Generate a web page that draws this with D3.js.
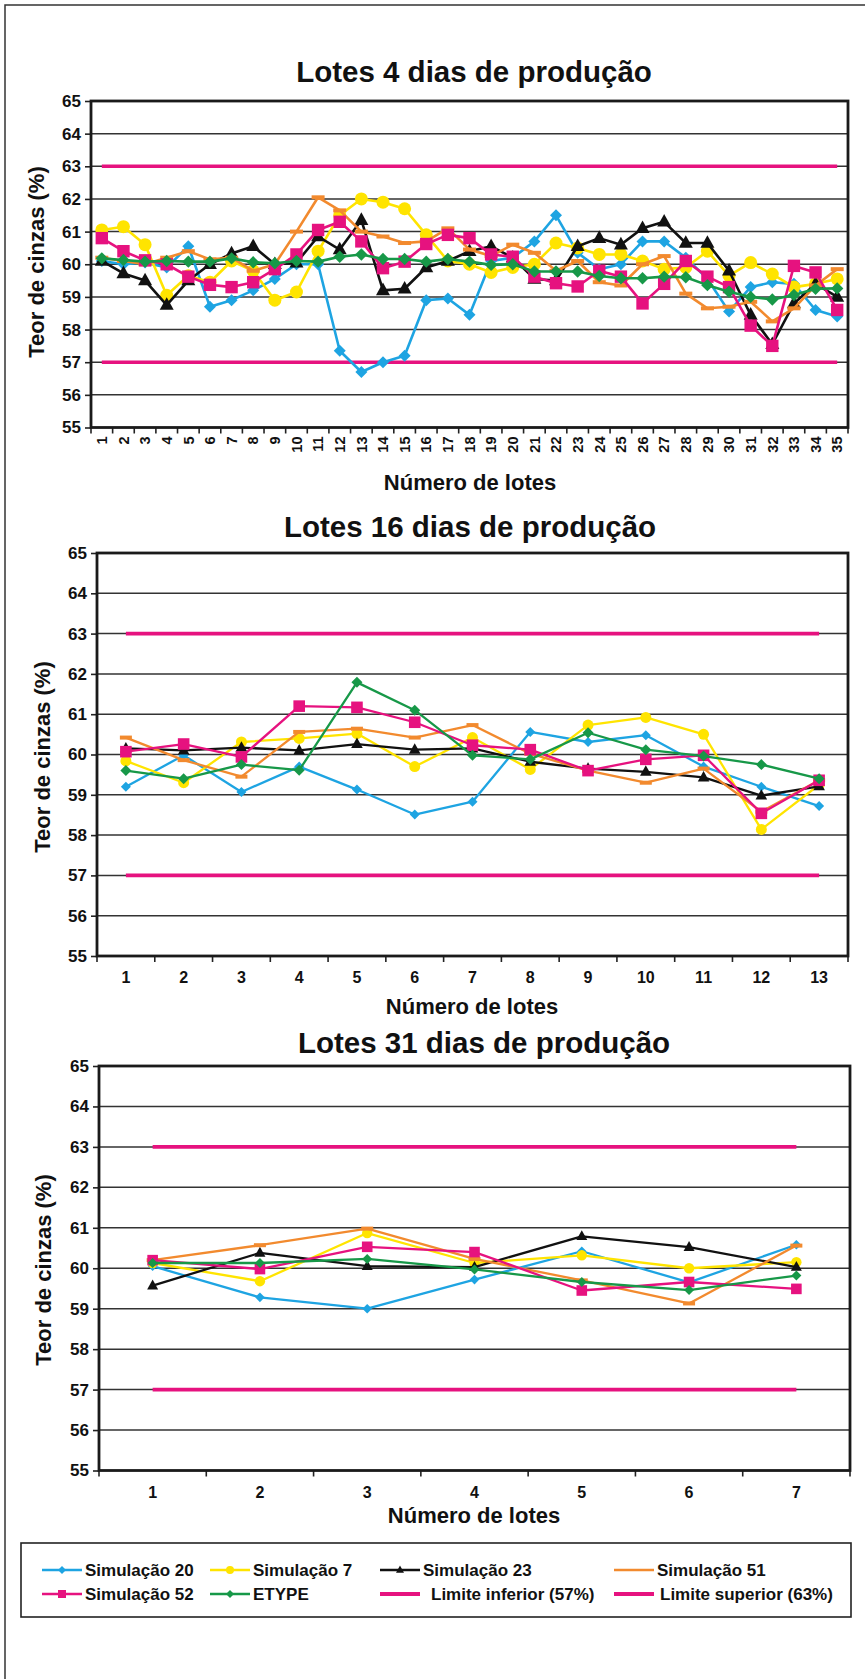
<!DOCTYPE html>
<html><head><meta charset="utf-8">
<script src="https://cdn.jsdelivr.net/npm/d3@7"></script>
<style>
body{margin:0;background:#fff}
svg text{font-family:"Liberation Sans",Arial,Helvetica,sans-serif;font-weight:bold;fill:#111}
</style>
</head><body>
<svg id="chart" width="865" height="1679"></svg>
<script>
// ---------- DATA ----------
const yTicks = [55,56,57,58,59,60,61,62,63,64,65];
const limitInferior = 57;
const limitSuperior = 63;

const lotes4 = ["1","2","3","4","5","6","7","8","9","10","11","12","13","14","15","16","17","18","19","20","21","22","23","24","25","26","27","28","29","30","31","32","33","34","35"];
const sim20_4 = [60.1,60.0,60.05,59.9,60.55,58.7,58.9,59.2,59.55,60.0,60.0,57.35,56.7,57.0,57.2,58.9,58.95,58.45,60.1,60.2,60.7,61.5,60.35,59.85,60.0,60.7,60.7,60.2,59.55,58.55,59.3,59.45,59.4,58.6,58.4];
const sim7_4  = [61.05,61.15,60.6,59.05,59.65,59.45,60.1,59.8,58.9,59.15,60.4,61.5,62.0,61.9,61.7,60.9,60.1,60.0,59.75,59.9,60.0,60.65,60.5,60.3,60.3,60.1,59.85,59.9,60.4,59.65,60.05,59.7,59.3,59.4,59.55];
const sim23_4 = [60.1,59.72,59.5,58.75,59.5,60.0,60.33,60.55,60.0,60.05,60.85,60.45,61.35,59.2,59.25,59.9,60.1,60.4,60.55,60.2,59.55,59.5,60.55,60.8,60.6,61.1,61.3,60.65,60.65,59.8,58.45,57.55,58.8,59.4,59.0];
const sim51_4 = [60.2,60.1,60.0,60.2,60.4,60.15,60.2,59.8,60.0,61.0,62.05,61.65,61.0,60.85,60.65,60.7,61.1,60.45,60.25,60.6,60.35,59.8,60.1,59.45,59.35,60.0,60.25,59.1,58.65,58.7,58.85,58.25,58.65,59.35,59.85];
const sim52_4 = [60.8,60.4,60.12,60.0,59.62,59.37,59.3,59.45,59.85,60.3,61.05,61.3,60.7,59.88,60.08,60.62,60.9,60.8,60.3,60.23,59.62,59.42,59.32,59.8,59.62,58.8,59.4,60.1,59.62,59.3,58.12,57.5,59.95,59.75,58.6];
const etype_4 = [60.18,60.13,60.08,60.1,60.08,60.08,60.18,60.06,60.03,60.1,60.08,60.23,60.3,60.16,60.16,60.08,60.16,60.08,59.98,60.0,59.78,59.78,59.78,59.64,59.57,59.57,59.62,59.6,59.36,59.16,59.0,58.92,59.06,59.25,59.26];

const lotes16 = ["1","2","3","4","5","6","7","8","9","10","11","12","13"];
const sim20_16 = [59.2,59.98,59.07,59.7,59.13,58.51,58.83,60.56,60.31,60.48,59.7,59.2,58.72];
const sim7_16  = [59.84,59.3,60.31,60.4,60.52,59.7,60.42,59.63,60.73,60.92,60.5,58.14,59.25];
const sim23_16 = [60.15,60.1,60.17,60.1,60.26,60.12,60.15,59.82,59.65,59.57,59.43,58.98,59.21];
const sim51_16 = [60.42,59.86,59.45,60.56,60.64,60.42,60.73,60.02,59.6,59.3,59.65,58.58,59.36];
const sim52_16 = [60.07,60.26,59.94,61.2,61.17,60.8,60.23,60.12,59.6,59.88,59.98,58.54,59.36];
const etype_16 = [59.6,59.4,59.75,59.61,61.79,61.1,59.98,59.88,60.54,60.12,59.96,59.75,59.4];

const lotes31 = ["1","2","3","4","5","6","7"];
const sim20_31 = [60.05,59.28,59.0,59.72,60.42,59.65,60.58];
const sim7_31  = [60.13,59.68,60.87,60.13,60.32,60.0,60.15];
const sim23_31 = [59.57,60.38,60.05,60.03,60.79,60.52,60.03];
const sim51_31 = [60.2,60.57,60.98,60.23,59.7,59.13,60.56];
const sim52_31 = [60.2,59.98,60.53,60.4,59.45,59.66,59.49];
const etype_31 = [60.13,60.13,60.23,59.97,59.66,59.46,59.82];

const seriesNames = ["Simulação 20","Simulação 7","Simulação 23","Simulação 51","Simulação 52","ETYPE"];
const limitNames = ["Limite inferior (57%)","Limite superior (63%)"];

// ---------- STYLE ----------
const colors = {"Simulação 20":"#1ea4e2","Simulação 7":"#ffe400","Simulação 23":"#111111","Simulação 51":"#f28a2e","Simulação 52":"#e6127f","ETYPE":"#179848"};
const markers = {"Simulação 20":"diamond","Simulação 7":"circle","Simulação 23":"triangle","Simulação 51":"dash","Simulação 52":"square","ETYPE":"diamond"};
const limitColor = "#e6127f";

const svg = d3.select("#chart");
// outer frame
svg.append("path").attr("d","M5,1679 L5,5 L865,5").attr("fill","none").attr("stroke","#333").attr("stroke-width",1.5);

function drawMarker(g, type, cx, cy, s, color) {
  if (type === "diamond") {
    g.append("path").attr("d",`M${cx},${cy-s} L${cx+s},${cy} L${cx},${cy+s} L${cx-s},${cy} Z`).attr("fill",color);
  } else if (type === "circle") {
    g.append("circle").attr("cx",cx).attr("cy",cy).attr("r",s).attr("fill",color);
  } else if (type === "triangle") {
    const h = s*1.8;
    g.append("path").attr("d",`M${cx},${cy-h*0.62} L${cx+s},${cy+h*0.38} L${cx-s},${cy+h*0.38} Z`).attr("fill",color);
  } else if (type === "square") {
    g.append("rect").attr("x",cx-s).attr("y",cy-s).attr("width",2*s).attr("height",2*s).attr("fill",color);
  } else if (type === "dash") {
    g.append("rect").attr("x",cx-s-1).attr("y",cy-2).attr("width",2*s+2).attr("height",4).attr("fill",color);
  }
}

function drawChart(cfg) {
  const g = svg.append("g");
  const x = d3.scaleBand().domain(cfg.cats).range([cfg.left, cfg.right]).padding(0);
  const y = d3.scaleLinear().domain([55,65]).range([cfg.bottom, cfg.top]);
  const bw = x.bandwidth();
  const cx = c => x(c) + bw/2;

  // gridlines
  g.append("g").selectAll("line").data(yTicks.filter(v => v>55 && v<65)).join("line")
    .attr("x1",cfg.left).attr("x2",cfg.right).attr("y1",d=>y(d)).attr("y2",d=>y(d))
    .attr("stroke","#333").attr("stroke-width",1.5);

  // y axis
  const ya = g.append("g").attr("transform",`translate(${cfg.left},0)`)
    .call(d3.axisLeft(y).tickValues(yTicks).tickSize(6).tickPadding(cfg.yPad).tickFormat(d3.format("d")));
  ya.select(".domain").remove();
  ya.selectAll("line").attr("stroke","#222").attr("stroke-width",1.6);
  ya.selectAll("text").style("font-size",cfg.yFont+"px").attr("fill","#222");

  // x axis labels (band scale)
  const xa = g.append("g").attr("transform",`translate(0,${cfg.bottom})`)
    .call(d3.axisBottom(x).tickSize(0).tickPadding(cfg.xPad));
  xa.select(".domain").remove();
  xa.selectAll("text").style("font-size",cfg.xFont+"px").attr("fill","#222");
  if (cfg.rotate) {
    xa.selectAll("text").attr("transform","rotate(-90)").attr("text-anchor","end")
      .attr("x",-cfg.xPad).attr("y",0).attr("dy","0.36em");
  }
  // x ticks between categories
  const bounds = cfg.cats.map(c => x(c)).concat([cfg.right]);
  g.append("g").selectAll("line").data(bounds).join("line")
    .attr("x1",d=>d).attr("x2",d=>d).attr("y1",cfg.bottom).attr("y2",cfg.bottom+6)
    .attr("stroke","#222").attr("stroke-width",1.6);

  // frame
  g.append("rect").attr("x",cfg.left).attr("y",cfg.top).attr("width",cfg.right-cfg.left).attr("height",cfg.bottom-cfg.top)
    .attr("fill","none").attr("stroke","#1a1a1a").attr("stroke-width",2.8);

  // limits
  [limitInferior, limitSuperior].forEach(v => {
    g.append("line").attr("x1",cx(cfg.cats[0])).attr("x2",cx(cfg.cats[cfg.cats.length-1]))
      .attr("y1",y(v)).attr("y2",y(v)).attr("stroke",limitColor).attr("stroke-width",3.6);
  });

  // series
  const line = d3.line().x((d,i)=>cx(cfg.cats[i])).y(d=>y(d));
  cfg.series.forEach((vals, si) => {
    const name = seriesNames[si];
    const col = colors[name];
    const sg = g.append("g");
    sg.append("path").datum(vals).attr("d",line).attr("fill","none").attr("stroke",col)
      .attr("stroke-width",cfg.lw).attr("stroke-linejoin","round");
    vals.forEach((v,i) => {
      drawMarker(sg, markers[name], cx(cfg.cats[i]), y(v), cfg.msize[si], col);
    });
  });

  // titles
  g.append("text").attr("x",cfg.titleX).attr("y",cfg.titleY).attr("text-anchor","middle")
    .style("font-size","29.5px").text(cfg.title);
  g.append("text").attr("x",cfg.xTitleX).attr("y",cfg.xTitleY).attr("text-anchor","middle")
    .style("font-size","22px").text("Número de lotes");
  g.append("text").attr("transform",`translate(${cfg.yTitleX},${cfg.yTitleY}) rotate(-90)`)
    .attr("text-anchor","middle").attr("dy","0.35em").style("font-size","22px").text("Teor de cinzas (%)");
}

drawChart({
  title:"Lotes 4 dias de produção", titleX:474, titleY:82,
  cats:lotes4, left:91, right:848, top:101, bottom:427.5,
  series:[sim20_4,sim7_4,sim23_4,sim51_4,sim52_4,etype_4],
  rotate:true, xPad:9, xFont:14.5, yFont:17, yPad:4,
  xTitleX:470, xTitleY:490, yTitleX:36, yTitleY:262,
  lw:2.6, msize:[6,6.5,7,5.5,6.2,6.2]
});
drawChart({
  title:"Lotes 16 dias de produção", titleX:470, titleY:537,
  cats:lotes16, left:97, right:848, top:553, bottom:956,
  series:[sim20_16,sim7_16,sim23_16,sim51_16,sim52_16,etype_16],
  rotate:false, xPad:16, xFont:16, yFont:17, yPad:4,
  xTitleX:472, xTitleY:1014, yTitleX:42, yTitleY:757,
  lw:2.3, msize:[5,5.5,5.8,5,5.8,5.5]
});
drawChart({
  title:"Lotes 31 dias de produção", titleX:484, titleY:1053,
  cats:lotes31, left:99, right:850, top:1066, bottom:1470.5,
  series:[sim20_31,sim7_31,sim23_31,sim51_31,sim52_31,etype_31],
  rotate:false, xPad:16, xFont:16, yFont:17, yPad:4,
  xTitleX:474, xTitleY:1523, yTitleX:43, yTitleY:1270,
  lw:2.3, msize:[4.8,5.2,5.5,5,5.3,5]
});

// ---------- LEGEND ----------
const lg = svg.append("g");
lg.append("rect").attr("x",21).attr("y",1543).attr("width",830).attr("height",74)
  .attr("fill","#fff").attr("stroke","#222").attr("stroke-width",1.6);
const colX = [42,210,380,614];
const rowY = [1570,1594];
const legendItems = [
  {name:seriesNames[0], col:0,row:0},{name:seriesNames[1], col:1,row:0},
  {name:seriesNames[2], col:2,row:0},{name:seriesNames[3], col:3,row:0},
  {name:seriesNames[4], col:0,row:1},{name:seriesNames[5], col:1,row:1},
  {name:limitNames[0], col:2,row:1, limit:true},{name:limitNames[1], col:3,row:1, limit:true}
];
legendItems.forEach(it => {
  const x0 = colX[it.col], yy = rowY[it.row];
  const col = it.limit ? limitColor : colors[it.name];
  lg.append("line").attr("x1",x0).attr("x2",x0+40).attr("y1",yy).attr("y2",yy)
    .attr("stroke",col).attr("stroke-width",it.limit?4:2.4);
  if (!it.limit && markers[it.name] !== "dash") drawMarker(lg, markers[it.name], x0+20, yy, 4, col);
  const extra = it.limit ? (it.col === 2 ? 8 : 3) : 0;
  lg.append("text").attr("x",x0+43+extra).attr("y",yy).attr("dy","0.36em")
    .style("font-size","17px").text(it.name);
});
</script>
</body></html>
